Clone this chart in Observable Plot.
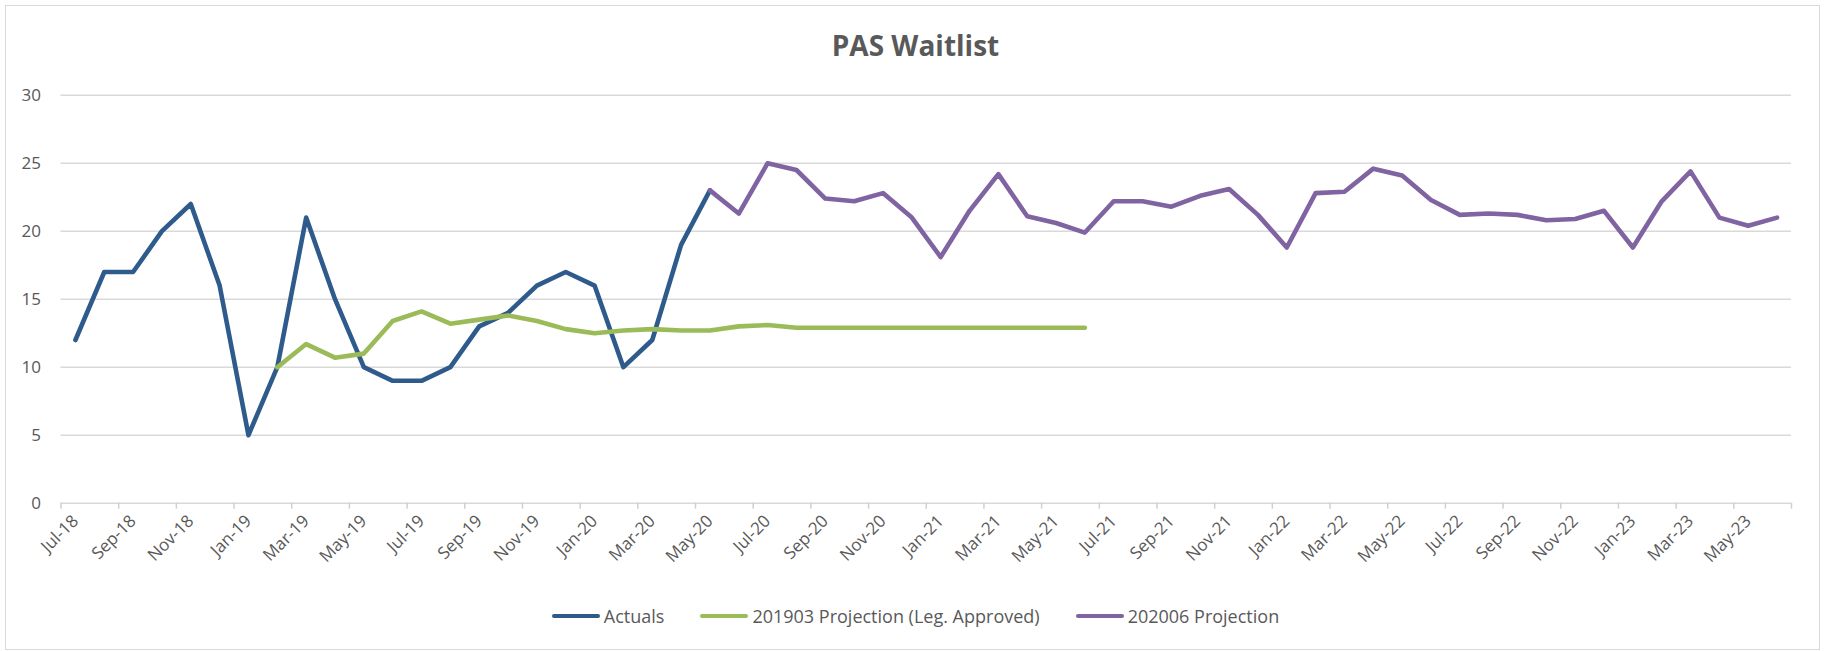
<!DOCTYPE html>
<html>
<head>
<meta charset="utf-8">
<script src="https://cdn.jsdelivr.net/npm/d3@7"></script>
<script src="https://cdn.jsdelivr.net/npm/@observablehq/plot@0.6"></script>
<style>
  html, body { margin: 0; padding: 0; background: #fff; }
  body { width: 1825px; height: 651px; position: relative; overflow: hidden; font-family: "Open Sans", sans-serif; color: #595959; }
  #frame { position: absolute; left: 5px; top: 5px; width: 1813px; height: 643px; border: 1px solid #d9d9d9; }
  #title { position: absolute; left: 3px; top: 0; width: 1825px; height: 70px; line-height: 90px; text-align: center; font-weight: 700; font-size: 28px; color: #595959; }
  #chart { position: absolute; left: 0; top: 70px; }
  #legend { position: absolute; left: 0; top: 603px; width: 1825px; display: flex; justify-content: center; align-items: center; font-size: 18px; line-height: 26px; padding-left: 6px; box-sizing: border-box; }
  .item { display: flex; align-items: center; margin: 0 18px; }
  .sw { width: 48px; height: 4.6px; border-radius: 2px; margin-right: 4px; }
</style>
</head>
<body>
<div id="frame"></div>
<div id="title">PAS Waitlist</div>
<div id="chart"></div>
<div id="legend"></div>
<script>
// Categories (monthly, Jul-18 .. Jun-23)
const months = [
  "Jul-18","Aug-18","Sep-18","Oct-18","Nov-18","Dec-18",
  "Jan-19","Feb-19","Mar-19","Apr-19","May-19","Jun-19","Jul-19","Aug-19","Sep-19","Oct-19","Nov-19","Dec-19",
  "Jan-20","Feb-20","Mar-20","Apr-20","May-20","Jun-20","Jul-20","Aug-20","Sep-20","Oct-20","Nov-20","Dec-20",
  "Jan-21","Feb-21","Mar-21","Apr-21","May-21","Jun-21","Jul-21","Aug-21","Sep-21","Oct-21","Nov-21","Dec-21",
  "Jan-22","Feb-22","Mar-22","Apr-22","May-22","Jun-22","Jul-22","Aug-22","Sep-22","Oct-22","Nov-22","Dec-22",
  "Jan-23","Feb-23","Mar-23","Apr-23","May-23","Jun-23"
];

// Series names
const seriesNames = ["Actuals", "201903 Projection (Leg. Approved)", "202006 Projection"];
const seriesColors = ["#2E5B8C", "#9BBB59", "#8064A2"];

// Actuals: Jul-18 .. May-20
const actualsStart = "Jul-18";
const actuals = [12,17,17,20,22,16,5,10,21,15,10,9,9,10,13,14,16,17,16,10,12,19,23];

// 201903 Projection (Leg. Approved): Feb-19 .. Jun-21
const proj201903Start = "Feb-19";
const proj201903 = [10,11.7,10.7,11.0,13.4,14.1,13.2,13.5,13.8,13.4,12.8,12.5,12.7,12.8,12.7,12.7,13.0,13.1,12.9,
  12.9,12.9,12.9,12.9,12.9,12.9,12.9,12.9,12.9,12.9];

// 202006 Projection: May-20 .. Jun-23
const proj202006Start = "May-20";
const proj202006 = [23,21.3,25.0,24.5,22.4,22.2,22.8,21.0,18.1,21.5,24.2,21.1,20.6,19.9,22.2,22.2,21.8,22.6,23.1,21.2,
  18.8,22.8,22.9,24.6,24.1,22.3,21.2,21.3,21.2,20.8,20.9,21.5,18.8,22.2,24.4,21.0,20.4,21.0];

// Axis ticks
const yTicks = [0,5,10,15,20,25,30];
const labelEvery = 2;

function rows(values, start) {
  const s = months.indexOf(start);
  return values.map((v, k) => ({x: s + k + 0.5, y: v}));
}
const seriesRows = [rows(actuals, actualsStart), rows(proj201903, proj201903Start), rows(proj202006, proj202006Start)];

const boundaryTicks = d3.range(0, months.length + 1, labelEvery);
const labelTicks = d3.range(0, months.length, labelEvery).map(i => i + 0.5);

const chart = Plot.plot({
  width: 1825,
  height: 510,
  marginLeft: 60.5,
  marginRight: 34,
  marginTop: 24.7,
  marginBottom: 77.3,
  style: {background: "transparent", fontFamily: "Open Sans, sans-serif", fontSize: "17px", color: "#595959", overflow: "visible"},
  x: {type: "linear", domain: [0, months.length]},
  y: {domain: [0, 30]},
  marks: [
    Plot.gridY(yTicks, {stroke: "#d9d9d9", strokeOpacity: 1, strokeWidth: 1.5}),
    Plot.axisY({ticks: yTicks, tickSize: 0, tickPadding: 20, label: null, fontSize: 17}),
    Plot.axisX({ticks: boundaryTicks, tickSize: 6, tickFormat: () => "", stroke: "#d0d0d0", strokeWidth: 1.5, label: null}),
    Plot.axisX({ticks: labelTicks, tickSize: 0, tickPadding: 15, tickRotate: -45, tickFormat: d => months[Math.floor(d)], label: null, fontSize: 17}),
    ...seriesRows.map((r, k) => Plot.line(r, {x: "x", y: "y", stroke: seriesColors[k], strokeWidth: 4.6, strokeLinejoin: "round", strokeLinecap: "round"}))
  ]
});
document.getElementById("chart").appendChild(chart);

const legend = document.getElementById("legend");
seriesNames.forEach((name, k) => {
  const item = document.createElement("div");
  item.className = "item";
  const sw = document.createElement("div");
  sw.className = "sw";
  sw.style.background = seriesColors[k];
  const t = document.createElement("span");
  t.textContent = name;
  item.appendChild(sw);
  item.appendChild(t);
  legend.appendChild(item);
});
</script>
</body>
</html>
